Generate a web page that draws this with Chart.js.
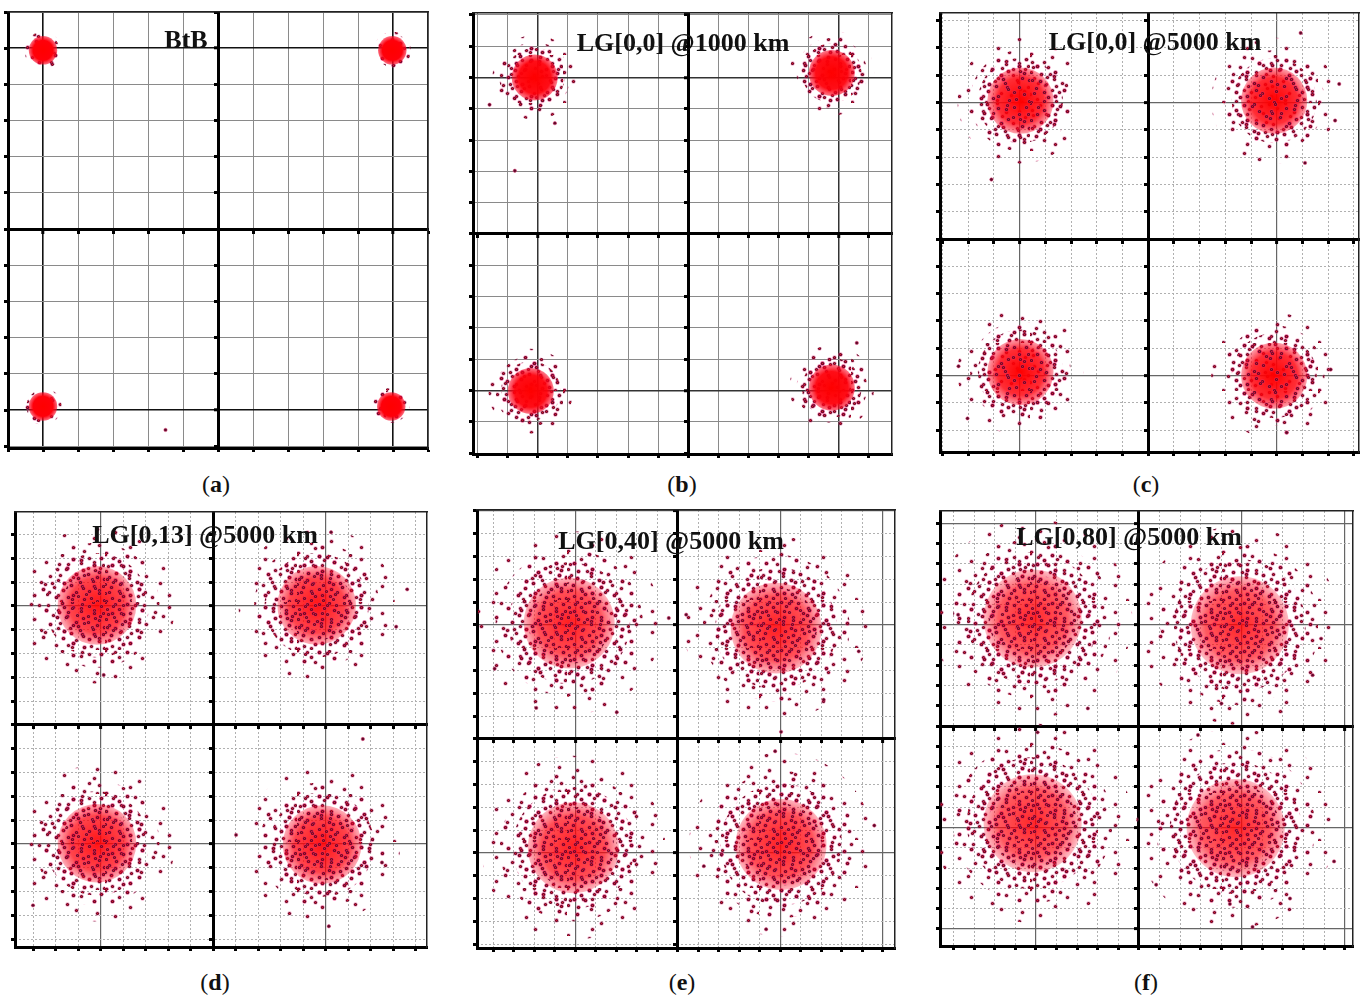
<!DOCTYPE html>
<html>
<head>
<meta charset="utf-8">
<script src="https://cdn.jsdelivr.net/npm/chart.js@4"></script>
<style>
  body { margin: 0; background: #fff; }
  #page { position: relative; width: 1367px; height: 1001px; overflow: hidden; }
  .panel { position: absolute; }
  .title { position: absolute; transform: translate(-50%, -50%); font: bold 26px "Liberation Serif", serif; color: #111; white-space: nowrap; z-index: 2; }
  .label { position: absolute; transform: translate(-50%, -50%); font: 24px "Liberation Serif", serif; color: #111; white-space: nowrap; }
</style>
</head>
<body>
<div id="page"></div>
<script>
// Constellation clusters, in grid divisions (diagram centre = 0,0).
// spread = [dense core radius, outer scatter radius]; outliers = isolated points
const btbCenters = [[-5.0, 4.94], [4.98, 4.94], [-5.0, -4.9], [4.95, -4.9]];
const btbSpread = [0.4, 0.52];
const btbOutliers = [[-1.5, -5.55]];

const lg00k1Centers = [[-5.1, 5.0], [4.77, 5.14], [-5.23, -5.02], [4.77, -4.91]];
const lg00k1Spread = [0.75, 1.15];
const lg00k1Outliers = [[-5.76, 2.02], [-6.6, 4.13], [-4.43, 3.54], [5.6, -3.48]];

const lg00k5Centers = [[-4.97, 5.07], [4.9, 5.07], [-4.97, -4.87], [4.9, -5.0]];
const lg00k5Spread = [1.25, 1.9];
const lg00k5Outliers = [[-6.1, 2.18], [5.93, 7.55], [7.43, 5.68], [7.27, 4.34], [6.1, 2.79],
  [-7.38, -4.66], [-7.03, -6.57], [7.1, -4.78], [5.39, -7.09]];

const lg013Centers = [[-5.16, 5.03], [4.6, 5.03], [-5.16, -4.97], [4.84, -5.03]];
const lg013Spread = [1.7, 2.7];
const lg013Outliers = [[8.62, 5.7], [8.13, 4.13], [5.24, 8.1], [6.65, -0.59], [-8.0, -7.58],
  [1.02, -4.62], [5.14, -8.46], [-4.86, 2.1], [7.5, -5.78]];

const lg040Centers = [[-5.3, 5.08], [4.8, 4.86], [-5.1, -4.77], [5.04, -4.63]];
const lg040Spread = [2.1, 3.4];
const lg040Outliers = [[-8.94, 3.08], [-6.91, 1.36], [-2.98, 1.17], [-0.44, 5.3], [0.41, 5.45],
  [8.83, 3.84], [7.12, 1.72], [5.04, 0.31], [4.75, -0.54], [9.59, -3.8], [4.31, -8.35], [1.27, -5.58]];

const lg080Centers = [[-5.16, 5.3], [4.9, 4.97], [-5.16, -4.79], [4.7, -5.03]];
const lg080Spread = [2.4, 3.9];
const lg080Outliers = [[-8.78, 5.49], [-2.48, 0.87], [8.85, 4.31], [8.44, 2.51], [4.01, 1.11],
  [0.84, -7.82], [5.52, -9.9], [9.48, -6.67], [7.34, -8.5], [4.42, -8.77], [-4.92, -0.31], [2.87, -0.44]];

const panels = [
  { box: [8, 12, 428, 448], xr: [-6, 6], yr: [-6.05, 6], centers: btbCenters, spread: btbSpread, outliers: btbOutliers,
    title: "BtB", titleAt: [186, 40], label: "a", labelAt: [216, 484],
    strong: [5], strongColor: "#111", strongWidth: 1.6, gridColor: "#8a8a8a", dotted: false,
    coreAlpha: [1, 1], coreLevel: 0, midLevel: 4, haloLevel: 2, fringe: 0 },
  { box: [473, 13, 892, 454], xr: [-7.15, 6.77], yr: [-7.03, 7.06], centers: lg00k1Centers, spread: lg00k1Spread, outliers: lg00k1Outliers,
    title: "LG[0,0] @1000 km", titleAt: [683, 43], label: "b", labelAt: [682, 484],
    strong: [5], strongColor: "#333", strongWidth: 1.5, gridColor: "#8a8a8a", dotted: false,
    coreAlpha: [1, 0.9], coreLevel: 0, midLevel: 9, haloLevel: 4, fringe: 1.2 },
  { box: [940, 13, 1359, 452], xr: [-8.1, 8.2], yr: [-7.8, 8.28], centers: lg00k5Centers, spread: lg00k5Spread, outliers: lg00k5Outliers,
    title: "LG[0,0] @5000 km", titleAt: [1155, 42], label: "c", labelAt: [1146, 484],
    strong: [5], strongColor: "#666", strongWidth: 1.2, gridColor: "#b0b0b0", dotted: true,
    coreAlpha: [1, 0.65], coreLevel: 5, midLevel: 8, haloLevel: 3, fringe: 1.25 },
  { box: [15, 512, 427, 947], xr: [-8.8, 9.5], yr: [-9.33, 8.95], centers: lg013Centers, spread: lg013Spread, outliers: lg013Outliers,
    title: "LG[0,13] @5000 km", titleAt: [205, 535], label: "d", labelAt: [215, 982],
    strong: [5], strongColor: "#666", strongWidth: 1.2, gridColor: "#b0b0b0", dotted: true,
    coreAlpha: [0.92, 0.55], coreLevel: 9, midLevel: 7, haloLevel: 3, fringe: 1.25 },
  { box: [477, 510, 895, 948], xr: [-9.8, 10.6], yr: [-9.17, 10.04], centers: lg040Centers, spread: lg040Spread, outliers: lg040Outliers,
    title: "LG[0,40] @5000 km", titleAt: [671, 541], label: "e", labelAt: [682, 982],
    strong: [5, 10], strongColor: "#666", strongWidth: 1.2, gridColor: "#b0b0b0", dotted: true,
    coreAlpha: [0.88, 0.5], coreLevel: 9, midLevel: 7, haloLevel: 3, fringe: 1.25 },
  { box: [940, 511, 1353, 946], xr: [-9.66, 10.4], yr: [-10.84, 10.6], centers: lg080Centers, spread: lg080Spread, outliers: lg080Outliers,
    title: "LG[0,80] @5000 km", titleAt: [1129, 537], label: "f", labelAt: [1146, 982],
    strong: [5, 10], strongColor: "#666", strongWidth: 1.2, gridColor: "#b0b0b0", dotted: true,
    coreAlpha: [0.85, 0.45], coreLevel: 9, midLevel: 7, haloLevel: 3, fringe: 1.25 }
];

const PAD = 6;
const DOT = "#5e0a28";

// hand-drawn stipple tile (3 px cells); a digit d is a dot used from density level d upward
const STIPPLE = [
  "3..7...1..5....8.2...6..4...9...",
  "..5...9...3..6....7..1....5...2.",
  "8...2....6..1...4....9..3...7...",
  "..1..7..4....8..2..5....6...1..4",
  ".6....3...9...5....1..8...4...7.",
  "4..9....1..7....3..6....2...5...",
  "...2..5....4..8...9...1...7...3.",
  ".7...8..3....2...6...4...9...1..",
  "5..1....6..9....4...7..3...8...2",
  "..8..4....2...7...1....5....6...",
  "9....6..5...3...8...2...4...1..7",
  "..3....7...1...6...9....5...8...",
  ".4..2....8...4....3...7...2...6.",
  "6....9..1...5...7....1...8....3.",
  "..7...3....6...2...5...9...4....",
  "1...5...8...9....4...6...3...7.5"
];

const stippleCache = {};
function stipple(level) {
  if (stippleCache[level]) return stippleCache[level];
  const c = document.createElement("canvas");
  c.width = 96; c.height = 48;
  const g = c.getContext("2d");
  STIPPLE.forEach((row, j) => {
    for (let i = 0; i < row.length; i++) {
      const d = +row[i];
      if (!d || d > level) continue;
      const px = i * 3 + 0.5 + (d % 3), py = j * 3 + 0.5 + ((d * 2) % 3);
      g.fillStyle = "rgba(240,60,130,0.45)";
      g.beginPath(); g.arc(px, py, 2.2, 0, Math.PI * 2); g.fill();
      g.fillStyle = DOT;
      g.beginPath(); g.arc(px, py, 1.55, 0, Math.PI * 2); g.fill();
      g.fillStyle = "#e0102a";
      g.beginPath(); g.arc(px, py, 0.7, 0, Math.PI * 2); g.fill();
    }
  });
  stippleCache[level] = g.createPattern(c, "repeat");
  return stippleCache[level];
}

function pxPerUnit(chart) {
  const sx = chart.scales.x, sy = chart.scales.y;
  if (!sx || !sy) return 0;
  const v = ((sx.getPixelForValue(1) - sx.getPixelForValue(0)) + (sy.getPixelForValue(0) - sy.getPixelForValue(1))) / 2;
  return isFinite(v) ? v : 0;
}

function buildScales(p) {
  const ticksOf = axis => {
    const t = [];
    for (let v = Math.ceil(axis.min); v <= Math.floor(axis.max); v++) t.push({ value: v });
    axis.ticks = t;
  };
  const absVal = c => (c.tick ? Math.abs(c.tick.value) : -1);
  const gridColor = c => { const v = absVal(c); return v === 0 ? "#000" : p.strong.includes(v) ? p.strongColor : p.gridColor; };
  const gridWidth = c => { const v = absVal(c); return v === 0 ? 3 : p.strong.includes(v) ? p.strongWidth : 1; };
  const dash = c => { const v = absVal(c); return (p.dotted && v > 0 && !p.strong.includes(v)) ? [2, 2] : []; };

  const center = (axis, range, pos) => ({
    type: "linear", axis, min: range[0], max: range[1], position: pos, afterBuildTicks: ticksOf,
    ticks: { display: false },
    grid: { color: gridColor, lineWidth: gridWidth, tickLength: 3, tickWidth: 3, tickColor: "#000" },
    border: { color: "#000", width: 3, dash }
  });
  const frame = (axis, range, pos, w, ticks) => ({
    type: "linear", axis, min: range[0], max: range[1], position: pos, afterBuildTicks: ticksOf,
    ticks: { display: false },
    grid: ticks ? { drawOnChartArea: false, tickLength: 4, tickWidth: 3, tickColor: "#000" }
                : { display: false, drawTicks: false },
    border: { color: ticks ? "#000" : "#222", width: w }
  });
  return {
    x: center("x", p.xr, { y: 0 }),
    y: center("y", p.yr, { x: 0 }),
    xb: frame("x", p.xr, "bottom", 3, true),
    yl: frame("y", p.yr, "left", 3, true),
    xt: frame("x", p.xr, "top", 1.5, false),
    yr: frame("y", p.yr, "right", 1.5, false)
  };
}

function buildDatasets(p) {
  const pts = p.centers.map(([x, y]) => ({ x, y }));
  const [core, outer] = p.spread;
  const radius = r => c => r * pxPerUnit(c.chart);
  const coreFill = c => {
    const ch = c.chart;
    const k = pxPerUnit(ch);
    if (!c.raw || !k) return "rgba(255,0,0,0)";
    const cx = ch.scales.x.getPixelForValue(c.raw.x), cy = ch.scales.y.getPixelForValue(c.raw.y);
    if (!isFinite(cx) || !isFinite(cy)) return "rgba(255,0,0,0)";
    const g = ch.ctx.createRadialGradient(cx, cy, 0, cx, cy, core * k);
    g.addColorStop(0, `rgba(255,0,0,${p.coreAlpha[0]})`);
    g.addColorStop(0.7, `rgba(255,0,10,${(p.coreAlpha[0] + p.coreAlpha[1]) / 2})`);
    g.addColorStop(1, `rgba(250,10,40,${p.coreAlpha[1] * 0.6})`);
    return g;
  };
  const sets = [
    { label: "outliers", data: p.outliers.map(([x, y]) => ({ x, y })), pointRadius: 1.7,
      backgroundColor: DOT, borderColor: "rgba(230,60,120,0.8)", borderWidth: 0.6 }
  ];
  if (p.coreLevel) {
    sets.push({ label: "core dots", data: pts, pointRadius: radius(core * 0.9), backgroundColor: stipple(p.coreLevel), borderWidth: 0 });
  }
  sets.push(
    { label: "core", data: pts, pointRadius: radius(core), backgroundColor: coreFill, borderWidth: 0 },
    { label: "scatter", data: pts, pointRadius: radius(core + (outer - core) * 0.55), backgroundColor: stipple(p.midLevel), borderWidth: 0 },
    { label: "halo", data: pts, pointRadius: radius(outer), backgroundColor: stipple(p.haloLevel), borderWidth: 0 }
  );
  if (p.fringe) {
    sets.push({ label: "fringe", data: pts, pointRadius: radius(outer * p.fringe), backgroundColor: stipple(1), borderWidth: 0 });
  }
  return sets;
}

const page = document.getElementById("page");
panels.forEach(p => {
  const [l, t, r, b] = p.box;
  const holder = document.createElement("div");
  holder.className = "panel";
  holder.style.left = (l - PAD) + "px";
  holder.style.top = (t - PAD) + "px";
  holder.style.width = (r - l + 2 * PAD) + "px";
  holder.style.height = (b - t + 2 * PAD) + "px";
  const canvas = document.createElement("canvas");
  holder.appendChild(canvas);
  page.appendChild(holder);

  const title = document.createElement("div");
  title.className = "title";
  title.textContent = p.title;
  title.style.left = p.titleAt[0] + "px";
  title.style.top = p.titleAt[1] + "px";
  page.appendChild(title);

  const label = document.createElement("div");
  label.className = "label";
  label.innerHTML = "(<b>" + p.label + "</b>)";
  label.style.left = p.labelAt[0] + "px";
  label.style.top = p.labelAt[1] + "px";
  page.appendChild(label);

  new Chart(canvas.getContext("2d"), {
    type: "scatter",
    data: { datasets: buildDatasets(p) },
    options: {
      responsive: true,
      maintainAspectRatio: false,
      animation: false,
      events: [],
      layout: { padding: { left: PAD - 4, bottom: PAD - 4, top: PAD, right: PAD } },
      scales: buildScales(p),
      plugins: { legend: { display: false }, tooltip: { enabled: false } }
    }
  });
});
</script>
</body>
</html>
